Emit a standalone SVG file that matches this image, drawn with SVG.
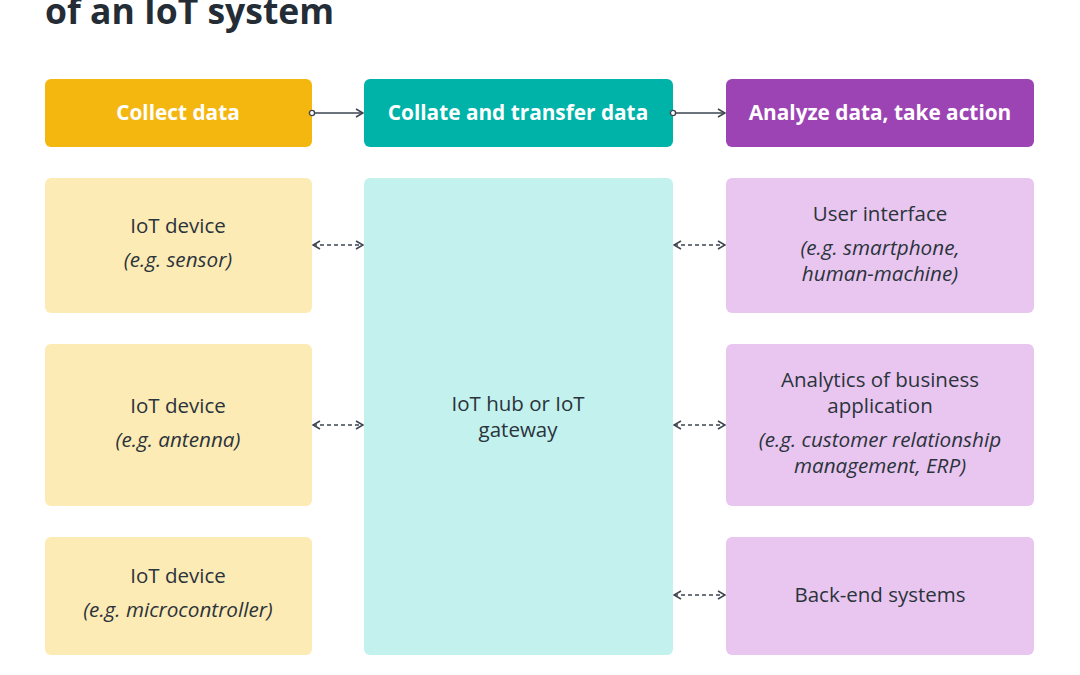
<svg xmlns="http://www.w3.org/2000/svg" width="1080" height="675" viewBox="0 0 1080 675">
<style>
text{font-family:"Open Sans","Noto Sans","Liberation Sans",sans-serif;fill:#2b333b;text-anchor:middle}
.t{font-size:20.5px}
.i{font-size:20.7px;font-style:italic}
.h{font-size:20.8px;font-weight:bold;fill:#ffffff}
.title{font-size:35.5px;font-weight:bold;text-anchor:start;fill:#242c35}
.y{fill:#f4b70f}.yl{fill:#fdebb5}
.g{fill:#00b3a8}.gl{fill:#c2f1ee}
.p{fill:#9d44b5}.pl{fill:#e8c6f0}
.c{stroke:#3d4550;stroke-width:1.5;fill:none}
.d{stroke:#3d4550;stroke-width:1.5;fill:none;stroke-dasharray:4 3}
</style>
<defs>
<marker id="ah" viewBox="0 0 10 10" refX="9" refY="5" markerWidth="10" markerHeight="10" markerUnits="userSpaceOnUse" orient="auto-start-reverse">
<path d="M2,1 L9,5 L2,9" fill="none" stroke="#3d4550" stroke-width="1.6"/>
</marker>
<marker id="dot" viewBox="0 0 8 8" refX="4" refY="4" markerWidth="8" markerHeight="8" markerUnits="userSpaceOnUse">
<circle cx="4" cy="4" r="2.6" fill="#ffffff" stroke="#3d4550" stroke-width="1.4"/>
</marker>
</defs>
<rect width="1080" height="675" fill="#ffffff"/>
<text class="title" x="45" y="24">of an IoT system</text>
<g id="collect"><rect class="y" x="45" y="79" width="267" height="68" rx="6"/><text class="h" x="178" y="120">Collect data</text></g>
<g id="collate"><rect class="g" x="364" y="79" width="309" height="68" rx="6"/><text class="h" x="518" y="120">Collate and transfer data</text></g>
<g id="analyze"><rect class="p" x="726" y="79" width="308" height="68" rx="6"/><text class="h" x="880" y="120">Analyze data, take action</text></g>
<g id="dev1"><rect class="yl" x="45" y="178" width="267" height="135" rx="6"/><text class="t" x="178" y="233">IoT device</text><text class="i" x="178" y="267">(e.g. sensor)</text></g>
<g id="dev2"><rect class="yl" x="45" y="344" width="267" height="162" rx="6"/><text class="t" x="178" y="413">IoT device</text><text class="i" x="178" y="447">(e.g. antenna)</text></g>
<g id="dev3"><rect class="yl" x="45" y="537" width="267" height="118" rx="6"/><text class="t" x="178" y="583">IoT device</text><text class="i" x="178" y="617">(e.g. microcontroller)</text></g>
<g id="hub"><rect class="gl" x="364" y="178" width="309" height="477" rx="6"/><text class="t" x="518" y="411">IoT hub or IoT</text><text class="t" x="518" y="437">gateway</text></g>
<g id="ui"><rect class="pl" x="726" y="178" width="308" height="135" rx="6"/><text class="t" x="880" y="221">User interface</text><text class="i" x="880" y="255">(e.g. smartphone,</text><text class="i" x="880" y="281">human-machine)</text></g>
<g id="analytics"><rect class="pl" x="726" y="344" width="308" height="162" rx="6"/><text class="t" x="880" y="387">Analytics of business</text><text class="t" x="880" y="413">application</text><text class="i" x="880" y="447">(e.g. customer relationship</text><text class="i" x="880" y="473">management, ERP)</text></g>
<g id="backend"><rect class="pl" x="726" y="537" width="308" height="118" rx="6"/><text class="t" x="880" y="602">Back-end systems</text></g>
<g id="connectors">
<path class="c" d="M312,113 H363" marker-start="url(#dot)" marker-end="url(#ah)"/>
<path class="c" d="M673,113 H725" marker-start="url(#dot)" marker-end="url(#ah)"/>
<path class="d" d="M313,245 H363" marker-start="url(#ah)" marker-end="url(#ah)"/>
<path class="d" d="M313,425 H363" marker-start="url(#ah)" marker-end="url(#ah)"/>
<path class="d" d="M674,245 H725" marker-start="url(#ah)" marker-end="url(#ah)"/>
<path class="d" d="M674,425 H725" marker-start="url(#ah)" marker-end="url(#ah)"/>
<path class="d" d="M674,595 H725" marker-start="url(#ah)" marker-end="url(#ah)"/>
</g>
</svg>
